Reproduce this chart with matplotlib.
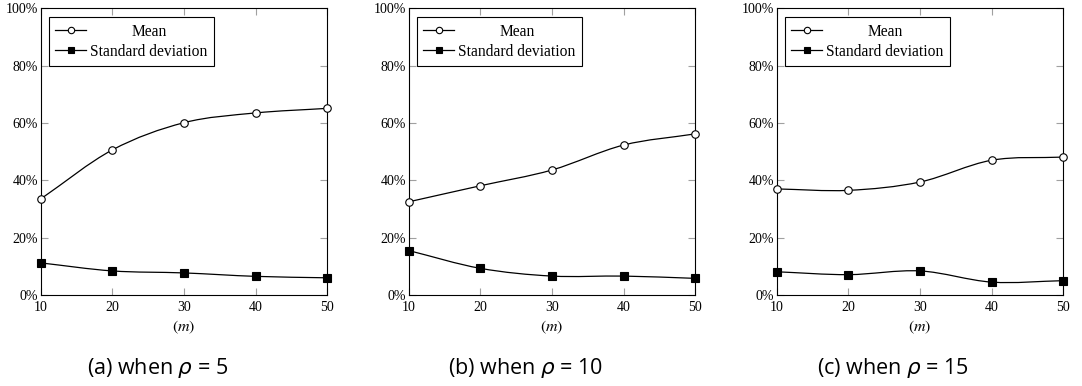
import matplotlib
matplotlib.use("Agg")
import matplotlib.pyplot as plt
from matplotlib.path import Path
from matplotlib.patches import PathPatch
from matplotlib.lines import Line2D
from matplotlib.ticker import FuncFormatter
import numpy as np

m_values = [10, 20, 30, 40, 50]
mean_rho5 = [33.5, 50.6, 60.1, 63.5, 65.1]
std_rho5 = [11.2, 8.4, 7.7, 6.5, 6.0]
mean_rho10 = [32.5, 38.1, 43.6, 52.3, 56.2]
std_rho10 = [15.5, 9.3, 6.6, 6.6, 5.8]
mean_rho15 = [37.0, 36.5, 39.4, 47.0, 48.1]
std_rho15 = [8.1, 7.1, 8.4, 4.5, 5.0]
captions = ["(a) when $\\rho$ = 5", "(b) when $\\rho$ = 10", "(c) when $\\rho$ = 15"]
legend_labels = ["Mean", "Standard deviation"]
y_ticks = [0, 20, 40, 60, 80, 100]
x_ticks = [10, 20, 30, 40, 50]

panels = [(mean_rho5, std_rho5), (mean_rho10, std_rho10), (mean_rho15, std_rho15)]

plt.rcParams['mathtext.fontset'] = 'dejavusans'
serif = 'Liberation Serif'

fig = plt.figure(figsize=(10.82, 3.86), dpi=100)
lefts = [40.7, 408.7, 776.7]
W, H = 1082, 386
AW, AH = 286.5, 286.7


def smooth_path(ax, xs, ys, tension=0.55):
    xa = np.array(xs, float)
    ya = np.array(ys, float)
    x0, x1 = ax.get_xlim()
    y0, y1 = ax.get_ylim()
    asp = AH / AW
    u = (xa - x0) / (x1 - x0)
    v = (ya - y0) / (y1 - y0) * asp
    n = len(u)
    verts = [(u[0], v[0])]
    codes = [Path.MOVETO]
    tang = []
    for i in range(n):
        if i == 0:
            t = (u[1] - u[0], v[1] - v[0])
        elif i == n - 1:
            t = (u[-1] - u[-2], v[-1] - v[-2])
        else:
            t = ((u[i + 1] - u[i - 1]) / 2, (v[i + 1] - v[i - 1]) / 2)
        tang.append(t)
    k = tension * 0.6
    for i in range(n - 1):
        c1 = (u[i] + k * tang[i][0], v[i] + k * tang[i][1])
        c2 = (u[i + 1] - k * tang[i + 1][0], v[i + 1] - k * tang[i + 1][1])
        verts += [c1, c2, (u[i + 1], v[i + 1])]
        codes += [Path.CURVE4] * 3
    verts = np.array(verts)
    dx = x0 + verts[:, 0] * (x1 - x0)
    dy = y0 + verts[:, 1] / asp * (y1 - y0)
    return Path(np.column_stack([dx, dy]), codes)


legends = []
for idx, (mean, std) in enumerate(panels):
    ax = fig.add_axes([lefts[idx] / W, 1 - 295 / H, AW / W, AH / H])
    ax.set_xlim(10, 50)
    ax.set_ylim(0, 100)
    for series, mk, fc in [(mean, 'o', 'white'), (std, 's', 'black')]:
        p = smooth_path(ax, m_values, series)
        ax.add_patch(PathPatch(p, facecolor='none', edgecolor='black', lw=0.9, zorder=3))
        ax.plot(m_values, series, linestyle='none', marker=mk, markersize=5.4 if mk == 'o' else 5.8,
                markerfacecolor=fc, markeredgecolor='black', markeredgewidth=0.8, zorder=4,
                clip_on=False)
    ax.set_xticks(x_ticks)
    ax.set_yticks(y_ticks)
    ax.yaxis.set_major_formatter(FuncFormatter(lambda v, p: f"{int(v)}%"))
    ax.tick_params(direction='in', length=5, width=0.8, color='#a0a0a0',
                   top=True, right=True, labelsize=10, pad=2)
    ax.tick_params(axis='x', pad=4)
    for lab in ax.get_xticklabels() + ax.get_yticklabels():
        lab.set_fontfamily(serif)
    for sp in ax.spines.values():
        sp.set_linewidth(0.8)
    ax.set_xlabel("$(m)$", fontsize=11.5, labelpad=4, math_fontfamily='stix')
    handles = [Line2D([], [], color='black', lw=0.9, marker='o', markersize=4.6,
                      markerfacecolor='white', markeredgewidth=0.8),
               Line2D([], [], color='black', lw=0.9, marker='s', markersize=4.8,
                      markerfacecolor='black', markeredgewidth=0.8)]
    leg = ax.legend(handles, ["", legend_labels[1]], loc='upper left',
                    bbox_to_anchor=(8.3 / AW, 1 - 8.7 / AH), frameon=True, fancybox=False,
                    edgecolor='black', framealpha=1, prop={'family': serif, 'size': 11.2},
                    handlelength=2.0, handletextpad=0.25, borderpad=0.4, labelspacing=0.3,
                    borderaxespad=0)
    leg.get_frame().set_linewidth(0.8)
    legends.append((ax, leg))
    fig.text((lefts[idx] + 116.5) / W, 1 - 368 / H, captions[idx], ha='center', va='center',
             fontsize=15.5, family='Open Sans')

fig.canvas.draw()
inv = fig.transFigure.inverted()
for ax, leg in legends:
    tb = leg.texts[1].get_window_extent()
    hl = leg.legend_handles[0]
    hx, hy = hl.get_transform().transform(np.column_stack([hl.get_xdata(), hl.get_ydata()])).mean(axis=0)
    cx = (tb.x0 + tb.x1) / 2
    fx, fy = inv.transform((cx, hy))
    fig.text(fx, fy, legend_labels[0], ha='center', va='center_baseline',
             family=serif, fontsize=11.2)

fig.savefig("out.png", dpi=100)
